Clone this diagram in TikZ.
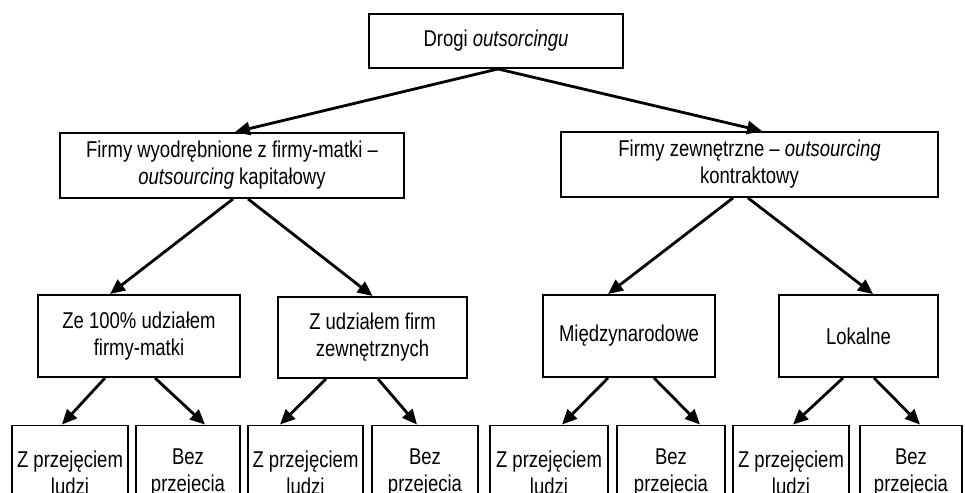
\documentclass[tikz,border=0pt]{standalone}
\usepackage{fontspec}
\setmainfont[FakeStretch=0.81]{Liberation Sans}
\usetikzlibrary{arrows.meta, calc}

\tikzset{
	box/.style = {draw, line width = 1.1pt, inner sep = 0pt, align = center,
		font = \fontsize{13}{15.3}\selectfont},
	dims/.style 2 args = {minimum width = #1 * 0.02cm, minimum height = #2 * 0.02cm},
	arrow/.style = {-{Triangle[length = 8.5pt, width = 7.5pt]}, line width = 1.6pt}
}

\begin{document}
\begin{tikzpicture}[x = 0.02cm, y = -0.02cm]

	\useasboundingbox (0, 0) rectangle (965, 493);
	\clip (0, 0) rectangle (965, 493);

	% Root
	
	\node [box, dims = {254}{54}] (root) at (496, 41) {Drogi \textit{outsorcingu}};
	
	% Two kinds of firms
	
	\node [box, dims = {344}{65}] (kap) at (232, 165.5)
		{Firmy wyodrębnione z firmy-matki –\\\textit{outsourcing} kapitałowy};
	\node [box, dims = {377}{65}] (kon) at (749.5, 164.5)
		{Firmy zewnętrzne – \textit{outsourcing}\\kontraktowy};
		
	% Third level
	
	\node [box, dims = {202}{82}] (matka) at (139, 336) {Ze 100\% udziałem\\firmy-matki};
	\node [box, dims = {189}{81}] (zewn) at (372.5, 337.5) {Z udziałem firm\\zewnętrznych};
	\node [box, dims = {172}{82}] (mied) at (629, 336) {Międzynarodowe};
	\node [box, dims = {159}{82}] (lok) at (858.5, 336) {Lokalne};
	
	% Bottom row, cut by the page edge
	
	\foreach \n/\x/\w in {1/70/116, 3/305.5/115, 5/549/118, 7/791/116}
		\node [box, dims = {\w}{94}] (z\n) at (\x, 472.5) {Z przejęciem\\ludzi};
		
	\foreach \n/\x/\w in {2/188/104, 4/425/106, 6/671/108, 8/911/102}
		\node [box, dims = {\w}{94}] (b\n) at (\x, 472.5) {Bez\\przejecia};
		
	% Arrows
	
	\foreach \p/\a/\c/\b in {root/2/kap/3, root/2/kon/12.5,
			kap/1/matka/-29, kap/16/zewn/0, kon/-16.5/mied/-21, kon/-1.5/lok/14.5,
			matka/-34/z1/-8, matka/16/b2/17, zewn/-46.5/z3/-25.5, zewn/5.5/b4/-8,
			mied/-21/z5/13, mied/25/b6/29, lok/-15.5/z7/2, lok/15.5/b8/9}
		\draw [arrow] ($(\p.south) + (\a, 0)$) -- ($(\c.north) + (\b, 0)$);

\end{tikzpicture}
\end{document}
